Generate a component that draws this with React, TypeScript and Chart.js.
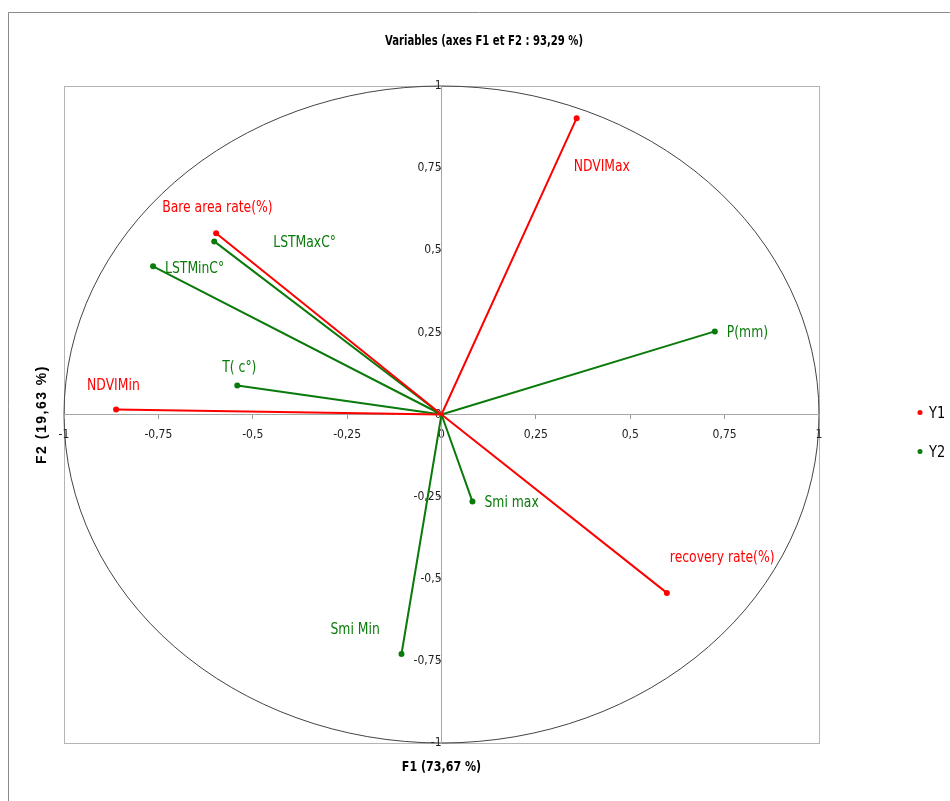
import React, { useEffect, useRef } from "react";
import { Chart, registerables } from "chart.js";

Chart.register(...registerables);

// Variables and their coordinates on F1 / F2
const y1Names = ["NDVIMax", "Bare area rate(%)", "NDVIMin", "recovery rate(%)"];
const y1F1 = [0.358, -0.597, -0.862, 0.597];
const y1F2 = [0.902, 0.552, 0.015, -0.543];

const y2Names = ["LSTMaxC°", "LSTMinC°", "P(mm)", "T( c°)", "Smi max", "Smi Min"];
const y2F1 = [-0.602, -0.764, 0.724, -0.541, 0.082, -0.106];
const y2F2 = [0.527, 0.451, 0.253, 0.088, -0.265, -0.729];

// label placement (pixel offsets from point, text left aligned)
const y1LabelOffsets = [[-3, 49], [-54, -25], [-29, -24], [3, -35]];
const y2LabelOffsets = [[59, 1], [12, 2], [12, 1], [-15, -18], [12, 1], [-71, -24]];

const tickValues = [-1, -0.75, -0.5, -0.25, 0, 0.25, 0.5, 0.75, 1];

const titleText = "Variables (axes F1 et F2 : 93,29 %)";
const xTitle = "F1 (73,67 %)";
const yTitle = "F2 (19,63 %)";
const legendLabels = ["Y1", "Y2"];

const RED = "#ff0000";
const GREEN = "#0a7a0a";
const NARROW = "'Liberation Sans Narrow', 'DejaVu Sans Condensed', sans-serif";

function buildVectors(xs: number[], ys: number[]) {
  const out: any[] = [];
  xs.forEach((x, i) => {
    out.push({ x: 0, y: 0 });
    out.push({ x, y: ys[i] });
    out.push({ x: null, y: null });
  });
  return out;
}

const fmt = (v: number) => String(v).replace(".", ",");

// draw horizontally-compressed text (to mimic a condensed face)
function narrowText(ctx: any, text: string, x: number, y: number, sx: number) {
  ctx.save();
  ctx.translate(x, y);
  ctx.scale(sx, 1);
  ctx.fillText(text, 0, 0);
  ctx.restore();
}

export default function App() {
  const ref = useRef<HTMLCanvasElement | null>(null);

  useEffect(() => {
    document.body.style.margin = "0";
    const canvas = ref.current!;
    const decor = {
      id: "decor",
      beforeDraw(chart: any) {
        const ctx = chart.ctx;
        const ca = chart.chartArea;
        ctx.save();
        ctx.fillStyle = "#fff";
        ctx.fillRect(0, 0, chart.width, chart.height);
        // outer frame
        ctx.strokeStyle = "#8a8a8a";
        ctx.lineWidth = 1;
        ctx.beginPath();
        ctx.moveTo(8.5, chart.height);
        ctx.lineTo(8.5, 12.5);
        ctx.lineTo(chart.width, 12.5);
        ctx.stroke();
        // plot box
        ctx.strokeStyle = "#b4b4b4";
        ctx.strokeRect(ca.left + 0.5, ca.top + 0.5, ca.right - ca.left, ca.bottom - ca.top);
        // circle
        const xs = chart.scales.x, ys = chart.scales.y;
        const cx = xs.getPixelForValue(0), cy = ys.getPixelForValue(0);
        const rx = xs.getPixelForValue(1) - cx;
        const ry = cy - ys.getPixelForValue(1);
        ctx.strokeStyle = "#444";
        ctx.lineWidth = 1;
        ctx.beginPath();
        ctx.ellipse(cx, cy, rx, ry, 0, 0, Math.PI * 2);
        ctx.stroke();
        ctx.restore();
      },
      afterDraw(chart: any) {
        const ctx = chart.ctx;
        const xs = chart.scales.x, ys = chart.scales.y;
        ctx.save();
        // title
        ctx.fillStyle = "#000";
        ctx.textAlign = "center";
        ctx.textBaseline = "middle";
        ctx.font = "bold 14px " + NARROW;
        narrowText(ctx, titleText, 484, 41, 0.8);
        narrowText(ctx, xTitle, xs.getPixelForValue(0), 767, 0.88);
        ctx.save();
        ctx.translate(42, ys.getPixelForValue(0));
        ctx.rotate(-Math.PI / 2);
        ctx.font = "bold 14px 'Liberation Sans', Arial, sans-serif";
        (ctx as any).letterSpacing = "1.5px";
        ctx.fillText(yTitle, 0, 0);
        ctx.restore();
        // point labels
        ctx.font = "16px " + NARROW;
        ctx.textAlign = "left";
        const drawLabels = (names: string[], fx: number[], fy: number[], offs: number[][], color: string) => {
          ctx.fillStyle = color;
          names.forEach((n, i) => {
            const px = xs.getPixelForValue(fx[i]);
            const py = ys.getPixelForValue(fy[i]);
            narrowText(ctx, n, px + offs[i][0], py + offs[i][1], 0.86);
          });
        };
        drawLabels(y1Names, y1F1, y1F2, y1LabelOffsets, RED);
        drawLabels(y2Names, y2F1, y2F2, y2LabelOffsets, GREEN);
        // legend
        const cols = [RED, GREEN];
        legendLabels.forEach((l, i) => {
          const ly = ys.getPixelForValue(0) - 2 + i * 39;
          ctx.fillStyle = cols[i];
          ctx.beginPath();
          ctx.arc(920, ly, 2.5, 0, Math.PI * 2);
          ctx.fill();
          ctx.fillStyle = "#000";
          ctx.font = "16px " + NARROW;
          narrowText(ctx, l, 929, ly + 1, 0.9);
        });
        ctx.restore();
      },
    };

    const ptRadius = (c: any) => (c.raw && c.raw.x === 0 && c.raw.y === 0 ? 0 : 3);

    const chart = new Chart(canvas, {
      type: "scatter",
      data: {
        datasets: [
          {
            label: legendLabels[0],
            data: buildVectors(y1F1, y1F2),
            showLine: true,
            spanGaps: false,
            borderColor: RED,
            backgroundColor: RED,
            borderWidth: 2,
            pointRadius: ptRadius,
            pointBorderWidth: 0,
          },
          {
            label: legendLabels[1],
            data: buildVectors(y2F1, y2F2),
            showLine: true,
            spanGaps: false,
            borderColor: GREEN,
            backgroundColor: GREEN,
            borderWidth: 2,
            pointRadius: ptRadius,
            pointBorderWidth: 0,
          },
        ],
      },
      options: {
        responsive: false,
        animation: false,
        layout: { padding: { left: 64, right: 131, top: 86, bottom: 58 } },
        plugins: {
          legend: { display: false },
          title: { display: false },
          tooltip: { enabled: false },
        },
        scales: {
          x: {
            type: "linear",
            min: -1,
            max: 1,
            position: { y: 0 } as any,
            afterBuildTicks: (s: any) => {
              s.ticks = tickValues.map((v) => ({ value: v }));
            },
            grid: { drawOnChartArea: false, drawTicks: true, tickLength: 4, color: "#999" },
            border: { color: "#a6a6a6", width: 1 },
            ticks: {
              callback: (v: any) => fmt(v),
              color: "#222",
              font: { size: 12, family: NARROW },
              padding: 9,
              maxRotation: 0,
            },
          },
          y: {
            type: "linear",
            min: -1,
            max: 1,
            position: { x: 0 } as any,
            afterBuildTicks: (s: any) => {
              s.ticks = tickValues.map((v) => ({ value: v }));
            },
            grid: { drawOnChartArea: false, drawTicks: true, tickLength: 4, color: "#999" },
            border: { color: "#a6a6a6", width: 1 },
            ticks: {
              callback: (v: any) => fmt(v),
              color: "#222",
              font: { size: 12, family: NARROW },
              padding: 6,
            },
          },
        },
      },
      plugins: [decor],
    } as any);
    return () => chart.destroy();
  }, []);

  return (
    <div style={{ width: 950, height: 801 }}>
      <canvas ref={ref} width={950} height={801} style={{ display: "block" }} />
    </div>
  );
}
